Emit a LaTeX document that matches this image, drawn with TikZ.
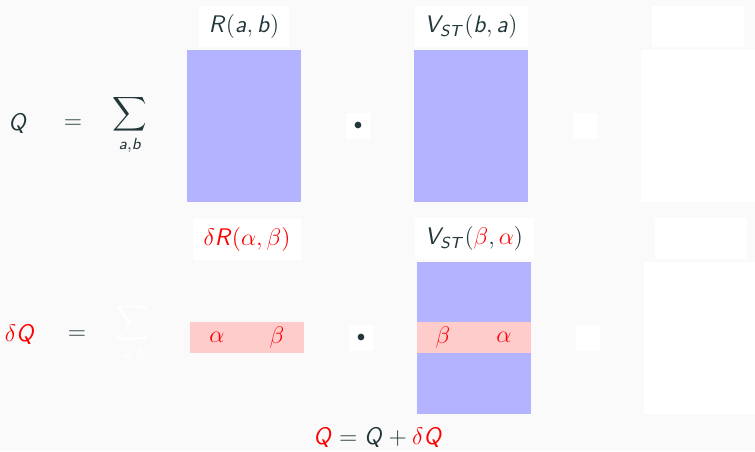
\documentclass[tikz,border=0pt]{standalone}
\usepackage{amsmath}
\usepackage{xcolor}
\usetikzlibrary{positioning}
\definecolor{fg}{HTML}{23373B}
\definecolor{bg}{HTML}{FAFAFA}
\definecolor{matblue}{HTML}{B3B3FF}
\definecolor{hlpink}{HTML}{FFCCCC}
\DeclareMathAlphabet{\msf}{OT1}{cmss}{m}{sl}
\newcommand{\vQ}{\msf{Q}}
\newcommand{\vST}{\msf{V}_{\msf{ST}}}
\newcommand{\mdot}{${\scriptstyle\bullet}$}

\begin{document}
\begin{tikzpicture}[x=0.5pt, y=-0.5pt,
  every node/.style={font=\fontsize{12}{14}\selectfont, text=fg, inner sep=0pt},
  lbl/.style={fill=white, minimum height=20.5pt},
  mat/.style={fill=matblue, minimum width=57pt, minimum height=76pt},
  blank/.style={fill=white, minimum width=57pt, minimum height=76pt},
  band/.style={fill=hlpink, minimum width=57pt, minimum height=15.5pt},
  sq/.style={fill=white, minimum width=12pt, minimum height=13pt},
  hl/.style={text=red}
]
\fill[bg] (0,0) rectangle (755,451);
\useasboundingbox (0,0) rectangle (755,451);
% first row: Q
\node (q) at (18,124) {$\vQ$};
\node (eq) at (73,124) {$=$};
\node (sum) at (130,125) {$\displaystyle\sum_{\msf{a},\msf{b}}$};
\node[mat] (r) at (244,126) {};
\node[lbl, minimum width=45pt, above=1pt of r] (rlab) {$\msf{R}(\msf{a},\msf{b})$};
\node[sq] (dot) at (358,126) {\mdot};
\node[mat] (v) at (471,126) {};
\node[lbl, minimum width=56.5pt, above=1pt of v] (vlab) {$\vST(\msf{b},\msf{a})$};
\node[sq] (gap) at (585,126) {};
\node[blank] (res) at (698,126) {};
\node[lbl, minimum width=46pt, above=1pt of res] (reslab) {};
% second row: delta Q
\node[hl] (dq) at (20,335) {$\delta\vQ$};
\node (deq) at (77,335) {$=$};
\node[text=white] (dsum) at (133,334) {$\displaystyle\sum_{\msf{a},\msf{b}}$};
\node[lbl, minimum width=54pt] (drlab) at (247,239.5) {$\color{red}\delta\msf{R}(\alpha,\beta)$};
\node[band] (dr) at (247,337.5) {};
\node[hl] (dra) at (217,337) {$\alpha$};
\node[hl] (drb) at (277,337) {$\beta$};
\node[sq] (ddot) at (361,338) {\mdot};
\node[mat] (dv) at (474,338) {};
\node[band] (dvb) at (474,337.5) {};
\node[hl] (dvb1) at (443,337) {$\beta$};
\node[hl] (dva) at (504,337) {$\alpha$};
\node[lbl, minimum width=59.5pt, above=1pt of dv] (dvlab) {$\vST({\color{red}\beta},{\color{red}\alpha})$};
\node[sq] (dgap) at (588,338) {};
\node[blank] (dres) at (701,338) {};
\node[lbl, minimum width=46pt, above=1pt of dres] (dreslab) {};
% update
\node (upd) at (378,438) {$\textcolor{red}{\vQ} = \vQ + \textcolor{red}{\delta\vQ}$};
\end{tikzpicture}
\end{document}
